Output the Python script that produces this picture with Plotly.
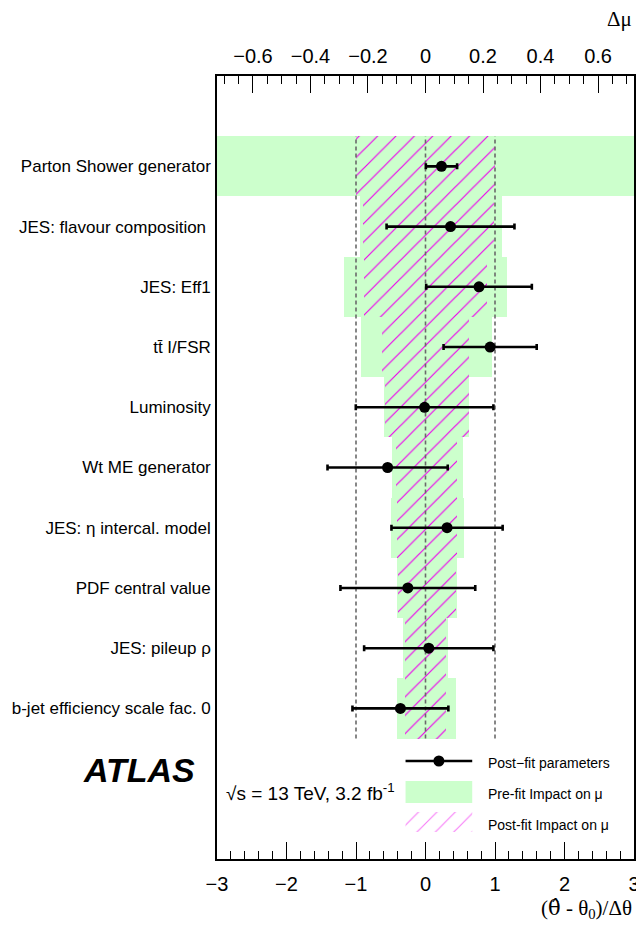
import plotly.graph_objects as go

# ---------------- data (top row first) ----------------
names = [
    "Parton Shower generator",
    "JES: flavour composition\u00a0",
    "JES: Eff1",
    "tt\u0304 I/FSR",
    "Luminosity",
    "Wt ME generator",
    "JES: \u03b7 intercal. model",
    "PDF central value",
    "JES: pileup \u03c1",
    "b-jet efficiency scale fac. 0",
]
pull = [0.23, 0.36, 0.77, 0.93, -0.013, -0.545, 0.31, -0.254, 0.047, -0.361]
pull_err = [0.225, 0.92, 0.76, 0.67, 0.99, 0.865, 0.80, 0.97, 0.93, 0.69]
prefit_dn = [-0.85, -0.229, -0.283, -0.226, -0.143, -0.118, -0.120, -0.100, -0.079, -0.100]
prefit_up = [0.85, 0.265, 0.282, 0.231, 0.152, 0.129, 0.135, 0.109, 0.078, 0.107]
postfit_dn = [-0.24, -0.218, -0.213, -0.150, -0.141, -0.102, -0.099, -0.095, -0.073, -0.070]
postfit_up = [0.24, 0.237, 0.213, 0.151, 0.151, 0.109, 0.111, 0.106, 0.072, 0.072]

pull_ticks = [-3, -2, -1, 0, 1, 2, 3]
dmu_ticks = [-0.6, -0.4, -0.2, 0, 0.2, 0.4, 0.6]
guide_pulls = [-1, 0, 1]

# ---------------- layout constants ----------------
OFF = 8                      # page offset of the figure (body margin)
W, H = 636, 914              # height keeps the page free of a vertical scrollbar
PL, PR, PT, PB = 214.7, 640.0, 76.0, 859.0   # plot frame in page pixels
ML, MR, MT, MB = PL - OFF, OFF + W - PR, PT - OFF, OFF + H - PB
n = len(names)
n_rows_total = n + 3          # one empty row on top, two rows for legend
ypos = [n_rows_total - 1.5 - i for i in range(n)]
PW = PR - PL
PH = PB - PT

GREEN = "#ccffcc"
MAG = "#ee00ee"
SANS = "Liberation Sans, Arial, Helvetica, sans-serif"
SERIF = "Liberation Serif, Times New Roman, serif"


def px(X):   # page pixel -> paper
    return (X - PL) / PW


def py(Y):
    return (PB - Y) / PH


def th(X):   # page pixel -> pull axis
    return (X - PL) / PW * 6 - 3


def yv(Y):   # page pixel -> y data
    return (PB - Y) / PH * n_rows_total


fig = go.Figure()

# pre-fit impact (green) on Delta-mu axis
fig.add_trace(go.Bar(
    y=ypos, x=[u - d for d, u in zip(prefit_dn, prefit_up)], base=prefit_dn,
    orientation="h", width=1.0, xaxis="x", yaxis="y",
    marker=dict(color=GREEN, line=dict(width=0)), showlegend=False, hoverinfo="skip"))

# post-fit impact (hatched)
fig.add_trace(go.Bar(
    y=ypos, x=[u - d for d, u in zip(postfit_dn, postfit_up)], base=postfit_dn,
    orientation="h", width=1.0, xaxis="x", yaxis="y",
    marker=dict(color=MAG, line=dict(width=0),
                pattern=dict(shape="/", fgcolor=MAG, bgcolor="rgba(0,0,0,0)",
                             size=13, solidity=0.09, fillmode="replace")),
    showlegend=False, hoverinfo="skip"))

# dashed guide lines at pull -1, 0, 1
ytop = ypos[0] + 0.5
ybot = ypos[-1] - 0.5
for g in guide_pulls:
    fig.add_trace(go.Scatter(
        x=[g, g], y=[ybot, ytop], mode="lines", xaxis="x2", yaxis="y",
        line=dict(color="#6a6a6a", width=1.6, dash="4px,3px"),
        showlegend=False, hoverinfo="skip"))

# pulls with error bars
fig.add_trace(go.Scatter(
    x=pull, y=ypos, mode="markers", xaxis="x2", yaxis="y",
    marker=dict(color="black", size=11),
    error_x=dict(type="data", array=pull_err, color="black", thickness=2.6, width=3),
    showlegend=False, hoverinfo="skip"))

# ---------------- hand-made legend glyphs ----------------
lx0, lx1 = th(407), th(475)
fig.add_trace(go.Scatter(x=[lx0, lx1], y=[yv(761), yv(761)], mode="lines", xaxis="x2", yaxis="y",
                         line=dict(color="black", width=2.6), showlegend=False, hoverinfo="skip"))
fig.add_trace(go.Scatter(x=[th(441)], y=[yv(761)], mode="markers", xaxis="x2", yaxis="y",
                         marker=dict(color="black", size=11), showlegend=False, hoverinfo="skip"))
fig.add_trace(go.Scatter(x=[lx0, lx1, lx1, lx0, lx0],
                         y=[yv(781), yv(781), yv(803), yv(803), yv(781)],
                         mode="lines", fill="toself", fillcolor=GREEN, line=dict(width=0),
                         xaxis="x2", yaxis="y", showlegend=False, hoverinfo="skip"))
fig.add_trace(go.Scatter(x=[lx0, lx1, lx1, lx0, lx0],
                         y=[yv(812), yv(812), yv(832), yv(832), yv(812)],
                         mode="lines", fill="toself", fillcolor="rgba(0,0,0,0)",
                         fillpattern=dict(shape="/", fgcolor=MAG, bgcolor="rgba(0,0,0,0)",
                                          size=13, solidity=0.09),
                         line=dict(width=0),
                         xaxis="x2", yaxis="y", showlegend=False, hoverinfo="skip"))

annotations = [
    dict(text="Post\u2212fit parameters", x=px(489), y=py(763), xanchor="left", yanchor="middle",
         font=dict(size=14, family=SANS, color="black")),
    dict(text="Pre-fit Impact on \u03bc", x=px(489), y=py(794), xanchor="left", yanchor="middle",
         font=dict(size=14, family=SANS, color="black")),
    dict(text="Post-fit Impact on \u03bc", x=px(489), y=py(825), xanchor="left", yanchor="middle",
         font=dict(size=14, family=SANS, color="black")),
    dict(text="<b><i>ATLAS</i></b>", x=px(194), y=py(770), xanchor="right", yanchor="middle",
         font=dict(size=34, family=SANS, color="black")),
    dict(text="\u221as = 13 TeV, 3.2 fb<sup>-1</sup>", x=px(222), y=py(792), xanchor="left",
         yanchor="middle", font=dict(size=19, family=SANS, color="black")),
    dict(text="\u0394\u03bc", x=px(640), y=py(19), xanchor="right", yanchor="middle",
         font=dict(size=21, family=SERIF, color="black")),
    dict(text="(<span style=\"font-family:DejaVu Serif\">\u03b8\u0302</span> - \u03b8<sub>0</sub>)/\u0394\u03b8",
         x=px(640), y=py(909),
         xanchor="right", yanchor="middle", font=dict(size=21, family=SERIF, color="black")),
]
for a in annotations:
    a.update(xref="paper", yref="paper", showarrow=False)

fig.update_layout(
    width=W, height=H,
    margin=dict(l=ML, r=MR, t=MT, b=MB, pad=0),
    paper_bgcolor="white", plot_bgcolor="white",
    barmode="overlay", bargap=0,
    showlegend=False,
    annotations=annotations,
    xaxis=dict(  # Delta-mu, top
        side="top", range=[-0.725, 0.725],
        tickvals=dmu_ticks,
        ticktext=[("\u2212" if v < 0 else "") + (f"{abs(v):.1f}" if v != 0 else "0") for v in dmu_ticks],
        ticks="inside", ticklen=17, tickwidth=1.2, tickcolor="black",
        minor=dict(dtick=0.05, tick0=0, ticks="inside", ticklen=8, tickwidth=1.2, tickcolor="black"),
        showline=True, linecolor="black", linewidth=1.6, mirror=True,
        showgrid=False, zeroline=False,
        tickfont=dict(size=20, family=SANS, color="black"),
        ticklabelstandoff=3, ticklabeloverflow="allow",
    ),
    xaxis2=dict(  # pull, bottom
        side="bottom", overlaying="x", range=[-3, 3],
        tickvals=pull_ticks, ticktext=[("\u2212" if v < 0 else "") + str(abs(v)) for v in pull_ticks],
        ticks="inside", ticklen=17, tickwidth=1.2, tickcolor="black",
        minor=dict(dtick=0.2, tick0=0, ticks="inside", ticklen=8, tickwidth=1.2, tickcolor="black"),
        showline=False, showgrid=False, zeroline=False,
        tickfont=dict(size=20, family=SANS, color="black"),
        ticklabelstandoff=11, ticklabeloverflow="allow",
    ),
    yaxis=dict(
        range=[0, n_rows_total], tickvals=ypos, ticktext=names,
        ticks="", showline=True, linecolor="black", linewidth=1.6, mirror=True,
        showgrid=False, zeroline=False,
        tickfont=dict(size=17, family=SANS, color="black"),
        ticklabelstandoff=1,
    ),
)

fig.write_html("out.html")
